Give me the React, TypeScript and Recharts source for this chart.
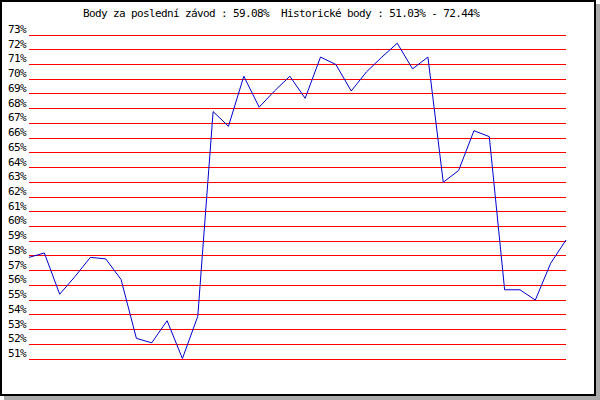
import { LineChart, Line, XAxis, YAxis, CartesianGrid } from 'recharts';

// ── Data ──────────────────────────────────────────────────────────────────────

const races = [
  1, 2, 3, 4, 5, 6, 7, 8, 9, 10, 11, 12, 13, 14, 15, 16, 17, 18,
  19, 20, 21, 22, 23, 24, 25, 26, 27, 28, 29, 30, 31, 32, 33, 34, 35, 36,
];

const body = [
  57.9, 58.2, 55.4, 56.6, 57.9, 57.8, 56.4, 52.4, 52.1, 53.6, 51.03, 53.9,
  67.8, 66.8, 70.2, 68.1, 69.2, 70.2, 68.7, 71.5, 71.0, 69.2, 70.5, 71.5,
  72.44, 70.7, 71.5, 63.0, 63.8, 66.5, 66.1, 55.7, 55.7, 55.0, 57.5, 59.08,
];

const yTicks = [
  51, 52, 53, 54, 55, 56, 57, 58, 59, 60, 61, 62,
  63, 64, 65, 66, 67, 68, 69, 70, 71, 72, 73,
];

const title = 'Body za poslední závod : 59.08%  Historické body : 51.03% - 72.44%';

const data = races.map((r, i) => ({ zavod: r, body: body[i] }));

const MONO = '"DejaVu Sans Mono", "Liberation Mono", monospace';

// ── Tick ──────────────────────────────────────────────────────────────────────

function PercentTick({ y, payload }: any) {
  return (
    <text
      x={8}
      y={y - 2}
      textAnchor="start"
      fill="#000"
      style={{ fontFamily: MONO, fontSize: 11, letterSpacing: -0.62 }}
    >
      {`${payload.value}%`}
    </text>
  );
}

function GridLine(props: any) {
  const { x1, y1, x2, y2, key } = props;
  return (
    <line
      key={key}
      x1={x1}
      y1={y1}
      x2={x2}
      y2={y2}
      stroke="#FF0000"
      strokeWidth={1}
      shapeRendering="crispEdges"
    />
  );
}

// ── Chart ─────────────────────────────────────────────────────────────────────

export default function App() {
  return (
    <div style={{
      position: 'absolute',
      top: 0,
      left: 0,
      width: 596,
      height: 396,
      boxSizing: 'border-box',
      border: '2px solid #000',
      background: '#fff',
      boxShadow: '4px 4px 0 #AAAAAA',
    }}>
      <div style={{
        position: 'absolute',
        top: 6,
        left: 81,
        fontFamily: MONO,
        fontSize: 11,
        lineHeight: '11px',
        letterSpacing: -0.62,
        whiteSpace: 'pre',
        color: '#000',
      }}>
        {title}
      </div>
      <div style={{ position: 'absolute', top: -2, left: -2 }}>
        <LineChart
          width={600}
          height={400}
          data={data}
          margin={{ top: 35, right: 34, left: 0, bottom: 41 }}
        >
          <CartesianGrid vertical={false} horizontal={GridLine} />
          <XAxis dataKey="zavod" hide />
          <YAxis
            width={29}
            domain={[51, 73]}
            ticks={yTicks}
            interval={0}
            axisLine={false}
            tickLine={false}
            tick={<PercentTick />}
          />
          <Line
            type="linear"
            dataKey="body"
            stroke="#0000CC"
            strokeWidth={1}
            dot={false}
            isAnimationActive={false}
          />
        </LineChart>
      </div>
    </div>
  );
}
